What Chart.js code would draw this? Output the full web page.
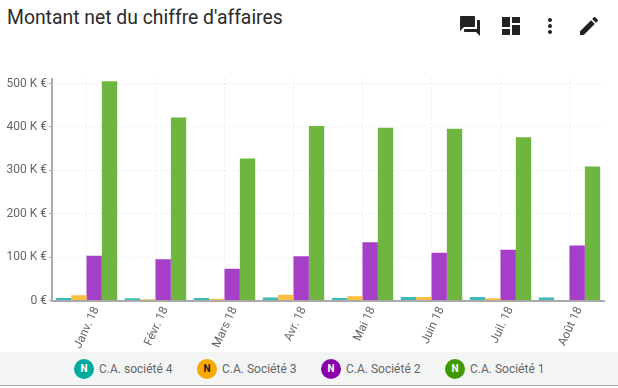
<!DOCTYPE html>
<html lang="fr">
<head>
<meta charset="utf-8">
<title>Montant net du chiffre d'affaires</title>
<script src="https://cdn.jsdelivr.net/npm/chart.js@4"></script>
<style>
  html, body { margin: 0; padding: 0; background: #fff; }
  body { width: 618px; height: 388px; position: relative; overflow: hidden; font-family: Roboto, sans-serif; }
  #titre { position: absolute; left: 7px; top: 7px; font-size: 19.35px; line-height: 22px; color: #2b2b2b; }
  #icones { position: absolute; left: 455px; top: 13px; }
  #zone { position: absolute; left: 0; top: 70px; width: 618px; height: 285px; }
  #legende { position: absolute; left: 0; top: 352px; width: 618px; height: 33px; background: #f3f5f4; border-bottom: 1px solid #aaa; }
  .item { position: absolute; top: 7px; height: 20px; line-height: 20px; font-size: 12px; color: #666; white-space: nowrap; }
  .rond { position: absolute; left: 0; top: 0; width: 20px; height: 20px; border-radius: 50%; text-align: center; font-size: 10px; font-weight: 700; color: #fff; }
  .item span.nom { margin-left: 25px; }
</style>
</head>
<body>
<div id="titre">Montant net du chiffre d'affaires</div>
<svg id="icones" width="155" height="26" viewBox="0 0 155 26" fill="#222">
  <g transform="translate(3,1)"><path d="M21 6h-2v9H6v2c0 .55.45 1 1 1h11l4 4V7c0-.55-.45-1-1-1zm-4 6V3c0-.55-.45-1-1-1H3c-.55 0-1 .45-1 1v14l4-4h10c.55 0 1-.45 1-1z"/></g>
  <g transform="translate(44,1)"><path d="M3 13h8V3H3v10zm0 8h8v-6H3v6zm10 0h8V11h-8v10zm0-18v6h8V3h-8z"/></g>
  <g transform="translate(83,1)"><path d="M12 8c1.100 0 2-.9 2-2s-.9-2-2-2-2 .9-2 2 .9 2 2 2zm0 2c-1.100 0-2 .9-2 2s.9 2 2 2 2-.9 2-2-.9-2-2-2zm0 6c-1.100 0-2 .9-2 2s.9 2 2 2 2-.9 2-2-.9-2-2-2z"/></g>
  <g transform="translate(122,1)"><path d="M3 17.250V21h3.750L17.810 9.940l-3.750-3.750L3 17.250zM20.710 7.040c.39-.39.39-1.020 0-1.410l-2.340-2.340c-.39-.39-1.020-.39-1.410 0l-1.830 1.830 3.750 3.750 1.830-1.830z"/></g>
</svg>
<div id="zone"><canvas id="graphique" width="618" height="285"></canvas></div>
<div id="legende"></div>
<script>
const mois = ["Janv. 18", "Févr. 18", "Mars 18", "Avr. 18", "Mai 18", "Juin 18", "Juil. 18", "Août 18"];
const societe4 = [6, 5, 6, 7, 6, 8, 8, 7];
const societe3 = [12, 3, 4, 13, 10, 8, 5, 0];
const societe2 = [103, 95, 73, 102, 134, 110, 117, 127];
const societe1 = [505, 422, 327, 402, 398, 396, 376, 309];

const series = [
    { nom: "C.A. société 4", valeurs: societe4, couleur: "#3dbcb6", rond: "#00a99d", lettre: "#fff", x: 74 },
    { nom: "C.A. Société 3", valeurs: societe3, couleur: "#fdbd3e", rond: "#f9a800", lettre: "#222", x: 197 },
    { nom: "C.A. Société 2", valeurs: societe2, couleur: "#a63fc7", rond: "#8a00ad", lettre: "#fff", x: 321 },
    { nom: "C.A. Société 1", valeurs: societe1, couleur: "#6fb640", rond: "#3f9a00", lettre: "#fff", x: 445 }
];

// legende faite a la main, le bandeau gris n'existe pas dans celle de Chart.js
const legende = document.getElementById("legende");
series.forEach(s => {
    const item = document.createElement("div");
    item.className = "item";
    item.style.left = s.x + "px";
    item.innerHTML = `<div class="rond" style="background:${s.rond};color:${s.lettre}">N</div><span class="nom">${s.nom}</span>`;
    legende.appendChild(item);
});

new Chart(document.getElementById("graphique").getContext("2d"), {
    type: "bar",
    data: {
        labels: mois,
        datasets: series.map(s => ({
            label: s.nom,
            data: s.valeurs,
            backgroundColor: s.couleur,
            borderWidth: 0,
            categoryPercentage: 0.89,
            barPercentage: 1
        }))
    },
    options: {
        responsive: false,
        animation: false,
        layout: { padding: { top: 9, right: 14, left: 0, bottom: 0 } },
        plugins: {
            legend: { display: false },
            title: { display: false },
            tooltip: { enabled: false }
        },
        scales: {
            y: {
                min: 0,
                max: 510,
                afterFit: scale => { scale.width = 52; },
                afterBuildTicks: scale => {
                    scale.ticks = [0, 100, 200, 300, 400, 500].map(v => ({ value: v }));
                },
                border: { color: "#aaa", width: 2, dash: [1, 3] },
                grid: { color: "#ddd", tickLength: 3, tickColor: "#aaa" },
                ticks: {
                    color: "#666",
                    autoSkip: false,
                    padding: 2,
                    font: { family: "Roboto", size: 12 },
                    callback: value => value === 0 ? "0 €" : value + " K €"
                }
            },
            x: {
                border: { color: "#aaa", width: 2, dash: [1, 3] },
                grid: { color: "#ddd", offset: false, drawTicks: false },
                ticks: {
                    color: "#666",
                    autoSkip: false,
                    minRotation: 65,
                    maxRotation: 65,
                    labelOffset: 10,
                    padding: 4,
                    font: { family: "Roboto", size: 12 }
                }
            }
        }
    }
});
</script>
</body>
</html>
